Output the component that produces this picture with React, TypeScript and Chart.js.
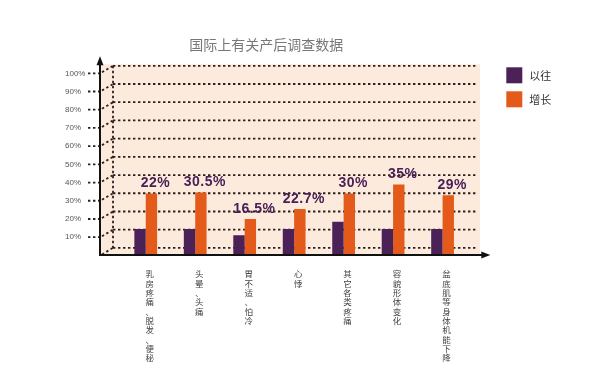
import React, { useEffect, useRef } from 'react';
import { Chart, registerables } from 'chart.js';

Chart.register(...registerables);

const title = '国际上有关产后调查数据';
const categories = [
  '乳房疼痛、脱发、便秘',
  '头晕、头痛',
  '胃不适、怕冷',
  '心悸',
  '其它各类疼痛',
  '容貌形体变化',
  '盆底肌等身体机能下降',
];
const seriesNames = ['以往', '增长'];
const pastValues = [14.5, 14.5, 11, 14.5, 18.5, 14.5, 14.5];
const growthValues = [34, 34.5, 20, 25.5, 34, 39, 33];
const growthLabels = ['22%', '30.5%', '16.5%', '22.7%', '30%', '35%', '29%'];
const yMax = 100;
const yStep = 10;

const PURPLE = '#4b2158';
const ORANGE = '#e35a1a';
const PINK = '#fcebdd';
const DOT = '#2a2020';
const CJK = '"Noto Sans CJK SC", "Noto Sans", sans-serif';
const LATIN = '"Liberation Sans", Arial, sans-serif';

const decor = {
  id: 'decor',
  beforeDatasetsDraw(chart: any) {
    const { ctx, chartArea: a, scales } = chart;
    const y = scales.y;
    const shift = 7.5;
    const axisX = a.left - 21;
    const backX = a.left - 8;
    const rightX = a.right + 9.5;
    ctx.save();
    const topY = y.getPixelForValue(yMax) - shift - 1.5;
    ctx.fillStyle = PINK;
    ctx.fillRect(axisX + 1, topY, a.right + 12.7 - axisX - 1, a.bottom - topY);

    ctx.strokeStyle = DOT;
    ctx.lineWidth = 1.8;
    ctx.setLineDash([2.4, 2.6]);
    const ticks = y.ticks.map((t: any) => t.value);
    for (const v of ticks) {
      const py = y.getPixelForValue(v);
      ctx.beginPath();
      ctx.moveTo(backX, py - shift);
      ctx.lineTo(rightX, py - shift);
      ctx.stroke();
      ctx.beginPath();
      ctx.moveTo(axisX + 2, py - 1);
      ctx.lineTo(backX, py - shift);
      ctx.stroke();
      if (v > 0) {
        ctx.beginPath();
        ctx.moveTo(axisX - 12, py);
        ctx.lineTo(axisX - 1, py);
        ctx.stroke();
      }
    }
    ctx.beginPath();
    ctx.moveTo(backX, y.getPixelForValue(yMax) - shift);
    ctx.lineTo(backX, y.getPixelForValue(0) - shift);
    ctx.stroke();
    ctx.restore();
  },
  afterDatasetsDraw(chart: any) {
    const { ctx, chartArea: a } = chart;
    const axisX = a.left - 21;
    const axisY = a.bottom - 0.5;
    ctx.save();
    ctx.strokeStyle = '#111';
    ctx.fillStyle = '#111';
    ctx.lineWidth = 2;
    ctx.setLineDash([]);
    ctx.beginPath();
    ctx.moveTo(axisX, axisY + 1);
    ctx.lineTo(axisX, a.top - 10);
    ctx.stroke();
    ctx.beginPath();
    ctx.moveTo(axisX, a.top - 17);
    ctx.lineTo(axisX - 3.5, a.top - 8);
    ctx.lineTo(axisX + 3.5, a.top - 8);
    ctx.closePath();
    ctx.fill();
    ctx.beginPath();
    ctx.moveTo(axisX - 1, axisY);
    ctx.lineTo(a.right + 16, axisY);
    ctx.stroke();
    ctx.beginPath();
    ctx.moveTo(a.right + 23, axisY);
    ctx.lineTo(a.right + 14, axisY - 3.5);
    ctx.lineTo(a.right + 14, axisY + 3.5);
    ctx.closePath();
    ctx.fill();

    const meta = chart.getDatasetMeta(1);
    ctx.fillStyle = '#4a2057';
    ctx.font = `bold 14px ${LATIN}`;
    (ctx as any).letterSpacing = '0.5px';
    ctx.textAlign = 'center';
    ctx.textBaseline = 'middle';
    meta.data.forEach((bar: any, i: number) => {
      ctx.fillText(growthLabels[i], bar.x + 4, bar.y - 10);
    });
    (ctx as any).letterSpacing = '0px';

    const lx = a.right + 39;
    chart.data.datasets.forEach((ds: any, i: number) => {
      const ly = a.top - 6 + i * 24;
      ctx.fillStyle = ds.backgroundColor;
      ctx.fillRect(lx, ly, 16, 16);
      ctx.fillStyle = '#333';
      ctx.font = `11px ${CJK}`;
      ctx.textAlign = 'left';
      ctx.textBaseline = 'middle';
      ctx.fillText(ds.label, lx + 23, ly + 8.5);
    });
    ctx.restore();
  },
};

export default function App() {
  const ref = useRef<HTMLCanvasElement>(null);
  useEffect(() => {
    document.body.style.margin = '0';
    const chart = new Chart(ref.current as HTMLCanvasElement, {
      type: 'bar',
      data: {
        labels: categories,
        datasets: [
          { label: seriesNames[0], data: pastValues, backgroundColor: PURPLE },
          { label: seriesNames[1], data: growthValues, backgroundColor: ORANGE },
        ],
      },
      options: {
        responsive: false,
        animation: false,
        events: [],
        layout: { padding: { left: 65, right: 132.7, top: 0, bottom: 0 } },
        datasets: {
          bar: { categoryPercentage: 0.46, barPercentage: 1 },
        },
        plugins: {
          legend: { display: false },
          tooltip: { enabled: false },
          title: {
            display: true,
            text: title,
            color: '#777',
            font: { size: 14, family: CJK, weight: 'normal', lineHeight: 1.2 },
            padding: { top: 36.6, bottom: 19.9 },
          },
        },
        scales: {
          x: {
            grid: { display: false },
            border: { display: false },
            ticks: {
              autoSkip: false,
              maxRotation: 0,
              minRotation: 0,
              padding: 6,
              labelOffset: 4,
              color: '#444',
              font: { size: 8.5, family: CJK, lineHeight: 1.1 },
              callback: (_v: any, i: number) => Array.from(categories[i]),
            },
            afterFit: (s: any) => {
              s.height = 116.6;
            },
          },
          y: {
            min: 0,
            max: yMax,
            grid: { display: false },
            border: { display: false },
            ticks: {
              stepSize: yStep,
              crossAlign: 'far',
              color: '#555',
              font: { size: 8, family: LATIN },
              callback: (v: any) => (v === 0 ? '' : v + '%'),
            },
            afterFit: (s: any) => {
              s.width = 56;
            },
          },
        },
      },
      plugins: [decor],
    });
    return () => chart.destroy();
  }, []);
  return (
    <div style={{ width: 600, height: 372, background: '#fff' }}>
      <canvas ref={ref} width={600} height={372} />
    </div>
  );
}
